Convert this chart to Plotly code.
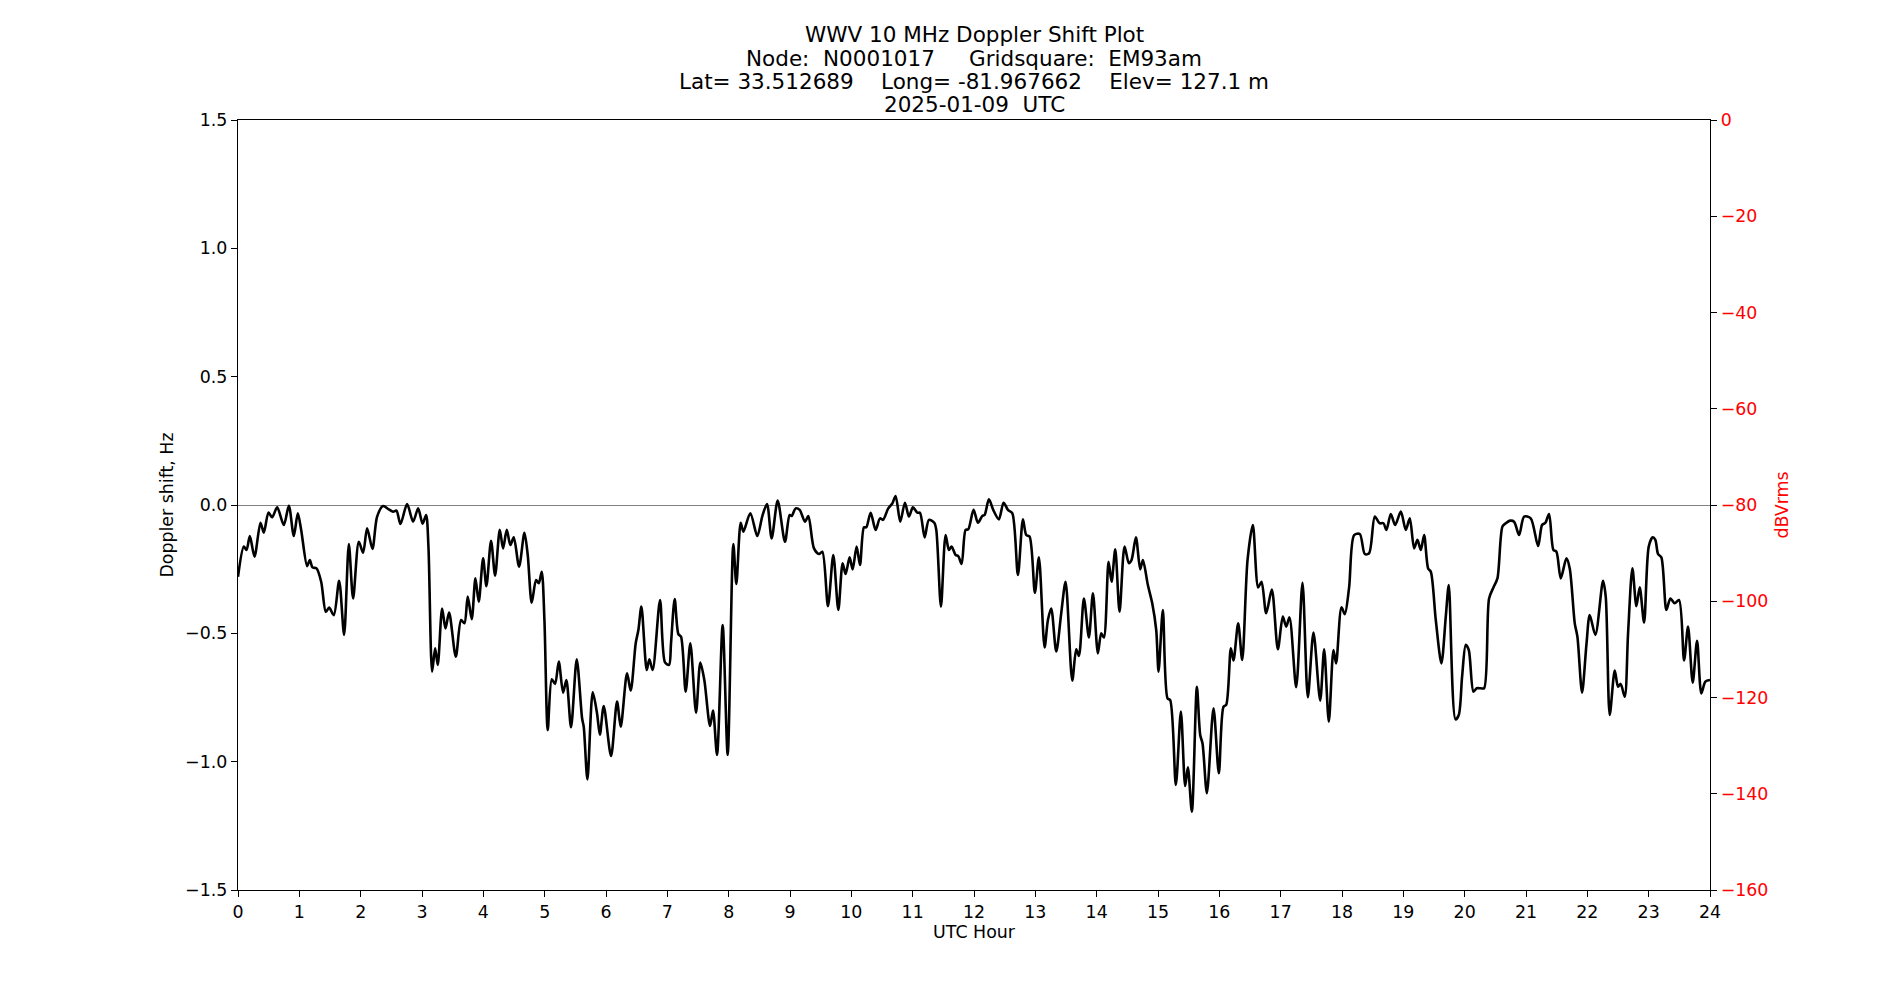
import plotly.graph_objects as go

title_lines = [
    "WWV 10 MHz Doppler Shift Plot",
    "Node:  N0001017     Gridsquare:  EM93am",
    "Lat= 33.512689    Long= -81.967662    Elev= 127.1 m",
    "2025-01-09  UTC",
]

utc_hour = [
    0.0, 0.095, 0.139, 0.193, 0.269, 0.367, 0.421, 0.497, 0.557, 0.639, 0.747, 0.829, 0.910, 0.975,
    1.030, 1.127, 1.171, 1.214, 1.280, 1.356, 1.432, 1.486, 1.562, 1.649, 1.730, 1.807, 1.877, 1.970,
    2.040, 2.105, 2.192, 2.268, 2.366, 2.459, 2.529, 2.584, 2.649, 2.757, 2.855, 2.937,
    3.010, 3.067, 3.105, 3.165, 3.214, 3.257, 3.328, 3.382, 3.442, 3.551, 3.637, 3.692, 3.746, 3.811,
    3.871, 3.925, 3.996, 4.050, 4.126, 4.192, 4.268, 4.322, 4.382, 4.441, 4.496, 4.583, 4.670, 4.724,
    4.789, 4.860, 4.904, 4.952, 4.996, 5.050, 5.116, 5.170, 5.230, 5.300, 5.354, 5.430, 5.523, 5.610,
    5.637, 5.697, 5.784, 5.854, 5.900, 5.963, 6.082, 6.180, 6.240, 6.343, 6.403, 6.484, 6.528, 6.577,
    6.664, 6.707, 6.761, 6.881, 6.962, 7.028, 7.060, 7.120, 7.180, 7.223, 7.299, 7.375, 7.468, 7.538,
    7.603, 7.696, 7.745, 7.810, 7.902, 7.984, 8.076, 8.125, 8.196, 8.239, 8.353, 8.467, 8.549, 8.625,
    8.701, 8.799, 8.918, 8.994, 9.027, 9.092, 9.158, 9.244, 9.299, 9.391, 9.473, 9.527, 9.619, 9.706,
    9.788, 9.858, 9.907, 9.972, 10.021, 10.086, 10.141, 10.206, 10.244, 10.315, 10.396, 10.467, 10.516,
    10.602, 10.668, 10.722, 10.798, 10.874, 10.939, 11.004, 11.075, 11.119, 11.195, 11.265, 11.352,
    11.385, 11.461, 11.537, 11.591, 11.635, 11.700, 11.743, 11.798, 11.863, 11.906, 11.993,
    12.064, 12.135, 12.173, 12.243, 12.319, 12.406, 12.482, 12.553, 12.624, 12.716, 12.798, 12.852,
    12.906, 12.993, 13.058, 13.151, 13.205, 13.259, 13.341, 13.422, 13.493, 13.602, 13.667, 13.711,
    13.792, 13.873, 13.939, 14.020, 14.074, 14.118, 14.194, 14.243, 14.303, 14.373, 14.455, 14.525,
    14.569, 14.640, 14.710, 14.754, 14.835, 14.906, 14.971,
    15.009, 15.079, 15.155, 15.199, 15.291, 15.373, 15.443, 15.487, 15.552, 15.634, 15.688, 15.726,
    15.797, 15.905, 15.992, 16.068, 16.112, 16.188, 16.231, 16.307, 16.373, 16.460, 16.546, 16.633,
    16.688, 16.764, 16.856, 16.954, 17.035, 17.090, 17.144, 17.253, 17.356, 17.443, 17.535, 17.644,
    17.709, 17.785, 17.861, 17.904, 17.991,
    18.046, 18.116, 18.198, 18.290, 18.372, 18.442, 18.535, 18.611, 18.676, 18.725, 18.796, 18.866,
    18.959, 19.040, 19.105, 19.176, 19.230, 19.285, 19.339, 19.404, 19.448, 19.529, 19.621, 19.692,
    19.741, 19.850, 19.904, 19.958, 20.018, 20.067, 20.143, 20.197, 20.263, 20.317, 20.398, 20.469,
    20.534, 20.616, 20.670, 20.741, 20.806, 20.888, 20.969,
    21.077, 21.197, 21.262, 21.317, 21.376, 21.447, 21.496, 21.566, 21.659, 21.713, 21.795, 21.838,
    21.914, 21.985, 22.039, 22.131, 22.256, 22.300, 22.365, 22.447, 22.501, 22.544, 22.610, 22.664,
    22.735, 22.800, 22.854, 22.925, 23.001, 23.066, 23.109, 23.153, 23.207, 23.289, 23.354, 23.424,
    23.495, 23.577, 23.642, 23.718, 23.789, 23.859, 23.924, 24.0,
]

doppler_hz = [
    -0.28, -0.162, -0.175, -0.121, -0.201, -0.069, -0.108, -0.029, -0.048, -0.009, -0.078, -0.003, -0.121, -0.032,
    -0.097, -0.238, -0.214, -0.243, -0.247, -0.299, -0.416, -0.40, -0.429, -0.295, -0.506, -0.152, -0.364, -0.143,
    -0.186, -0.091, -0.171, -0.045, -0.004, -0.017, -0.026, -0.022, -0.074, 0.004, -0.065, -0.013,
    -0.073, -0.039, -0.162, -0.649, -0.558, -0.623, -0.403, -0.481, -0.419, -0.591, -0.448, -0.461, -0.357, -0.445,
    -0.286, -0.377, -0.208, -0.316, -0.139, -0.275, -0.097, -0.169, -0.097, -0.156, -0.126, -0.240, -0.108, -0.195,
    -0.381, -0.292, -0.305, -0.260, -0.448, -0.877, -0.679, -0.697, -0.610, -0.731, -0.682, -0.866, -0.601, -0.831,
    -0.864, -1.069, -0.730, -0.812, -0.895, -0.783, -0.978, -0.766, -0.864, -0.656, -0.723, -0.539, -0.487, -0.396,
    -0.643, -0.601, -0.643, -0.370, -0.613, -0.623, -0.539, -0.366, -0.503, -0.513, -0.727, -0.539, -0.809, -0.614,
    -0.682, -0.861, -0.801, -0.974, -0.468, -0.974, -0.152, -0.308, -0.069, -0.104, -0.032, -0.121, -0.043, 0.004,
    -0.130, 0.017, -0.143, -0.039, -0.043, -0.013, -0.019, -0.065, -0.043, -0.169, -0.191, -0.182, -0.394, -0.195,
    -0.409, -0.227, -0.269, -0.204, -0.251, -0.162, -0.234, -0.087, -0.087, -0.030, -0.097, -0.052, -0.058,
    -0.013, 0.006, 0.035, -0.065, 0.009, -0.045, -0.009, -0.030, -0.030, -0.126, -0.058, -0.069,
    -0.097, -0.396, -0.117, -0.175, -0.162, -0.195, -0.199, -0.230, -0.097, -0.095, -0.019,
    -0.069, -0.043, -0.039, 0.022, -0.022, -0.056, 0.009, -0.019, -0.032, -0.273, -0.056, -0.117,
    -0.123, -0.342, -0.204, -0.555, -0.448, -0.403, -0.571, -0.422, -0.299, -0.684, -0.562, -0.588,
    -0.364, -0.516, -0.344, -0.578, -0.500, -0.516, -0.221, -0.299, -0.173, -0.416, -0.162, -0.227,
    -0.214, -0.126, -0.251, -0.214, -0.312, -0.383, -0.487,
    -0.649, -0.409, -0.753, -0.760, -1.091, -0.805, -1.095, -1.022, -1.195, -0.708, -0.896, -0.929,
    -1.123, -0.792, -1.045, -0.786, -0.779, -0.558, -0.606, -0.461, -0.604, -0.214, -0.078, -0.321,
    -0.299, -0.422, -0.329, -0.562, -0.435, -0.474, -0.438, -0.710, -0.303, -0.749, -0.497, -0.762,
    -0.562, -0.844, -0.565, -0.617, -0.399,
    -0.425, -0.321, -0.117, -0.113, -0.191, -0.188, -0.045, -0.071, -0.071, -0.097, -0.035, -0.078,
    -0.026, -0.097, -0.052, -0.169, -0.136, -0.175, -0.117, -0.247, -0.260, -0.448, -0.617, -0.435,
    -0.312, -0.835, -0.818, -0.669, -0.545, -0.565, -0.727, -0.714, -0.714, -0.714, -0.364, -0.321,
    -0.286, -0.084, -0.071, -0.061, -0.065, -0.117, -0.045,
    -0.052, -0.160, -0.078, -0.069, -0.035, -0.175, -0.182, -0.286, -0.208, -0.247, -0.461, -0.513,
    -0.731, -0.545, -0.429, -0.506, -0.295, -0.357, -0.818, -0.645, -0.708, -0.697, -0.747, -0.500,
    -0.247, -0.394, -0.321, -0.458, -0.162, -0.126, -0.136, -0.191, -0.204, -0.409, -0.364, -0.383,
    -0.370, -0.606, -0.474, -0.692, -0.529, -0.734, -0.688, -0.682,
]

x_ticks = list(range(0, 25))
y_ticks = [-1.5, -1.0, -0.5, 0.0, 0.5, 1.0, 1.5]
y2_ticks = [0, -20, -40, -60, -80, -100, -120, -140, -160]

FONT = "DejaVu Sans"
TICK_SIZE = 17.4
TITLE_SIZE = 21.5

# plot area: 237.5..1710 px wide, 120..890 px tall
PLOT_TOP, PLOT_BOTTOM = 120, 890
title_centers_px = [35.0, 58.0, 81.0, 104.5]

fig = go.Figure()
fig.add_trace(go.Scatter(
    x=utc_hour, y=doppler_hz, mode="lines",
    line=dict(color="black", width=2.6, shape="spline", smoothing=0.8),
    showlegend=False,
))
fig.add_trace(go.Scatter(x=[], y=[], yaxis="y2", showlegend=False))

for line, yc in zip(title_lines, title_centers_px):
    fig.add_annotation(
        text=line, xref="paper", yref="paper", x=0.5, xanchor="center",
        y=(PLOT_BOTTOM - yc) / (PLOT_BOTTOM - PLOT_TOP), yanchor="middle",
        showarrow=False, font=dict(family=FONT, size=TITLE_SIZE, color="black"),
    )

axis_common = dict(
    ticks="outside", ticklen=6, tickwidth=1.4, tickcolor="black",
    showline=True, linecolor="black", linewidth=1.4, showgrid=False,
)

fig.update_layout(
    width=1900, height=1000,
    paper_bgcolor="white", plot_bgcolor="white",
    margin=dict(l=237.5, r=190, t=PLOT_TOP, b=1000 - PLOT_BOTTOM, pad=0),
    font=dict(family=FONT, size=TICK_SIZE, color="black"),
    xaxis=dict(
        range=[0, 24], tickvals=x_ticks, mirror=True, zeroline=False,
        title=dict(text="UTC Hour", standoff=4, font=dict(family=FONT, size=TICK_SIZE)),
        tickfont=dict(family=FONT, size=TICK_SIZE), **axis_common,
    ),
    yaxis=dict(
        range=[-1.5, 1.5], tickvals=y_ticks, tickformat=".1f",
        zeroline=True, zerolinecolor="gray", zerolinewidth=1.3,
        title=dict(text="Doppler shift, Hz", standoff=6, font=dict(family=FONT, size=TICK_SIZE)),
        tickfont=dict(family=FONT, size=TICK_SIZE), **axis_common,
    ),
    yaxis2=dict(
        overlaying="y", side="right", range=[-160, 0], tickvals=y2_ticks, zeroline=False,
        tickfont=dict(family=FONT, size=TICK_SIZE, color="red"),
        title=dict(text="dBVrms", standoff=8, font=dict(family=FONT, size=TICK_SIZE, color="red")),
        **axis_common,
    ),
)

fig.write_html("out.html")
